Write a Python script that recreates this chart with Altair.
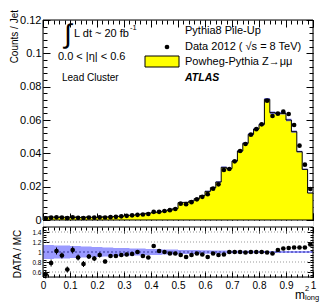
import altair as alt
import pandas as pd
import numpy as np

# ---------------- data ----------------
bin_edges = np.round(np.linspace(0, 1, 51), 2)

mc_values = [0.0018, 0.0018, 0.0016, 0.0016, 0.0017, 0.0015, 0.0015, 0.0016, 0.0016, 0.0016,
             0.0017, 0.0018, 0.0019, 0.0021, 0.0023, 0.0026, 0.0029, 0.0031, 0.0036, 0.0041,
             0.0044, 0.0048, 0.0054, 0.0061, 0.0068, 0.0104, 0.0106, 0.0114, 0.0128, 0.0146,
             0.0172, 0.0194, 0.0228, 0.0316, 0.0308, 0.0354, 0.0414, 0.0460, 0.0514, 0.0546,
             0.0574, 0.0724, 0.0644, 0.0640, 0.0640, 0.0600, 0.0530, 0.0410, 0.0304, 0.0162]

data_values = [0.0010, 0.0014, 0.0016, 0.0015, 0.0011, 0.0016, 0.0013, 0.0012, 0.0015, 0.0014,
               0.0016, 0.0015, 0.0017, 0.0019, 0.0022, 0.0025, 0.0028, 0.0031, 0.0033, 0.0036,
               0.0049, 0.0049, 0.0054, 0.0059, 0.0066, 0.0098, 0.0095, 0.0107, 0.0124, 0.0139,
               0.0155, 0.0188, 0.0214, 0.0300, 0.0306, 0.0352, 0.0414, 0.0456, 0.0512, 0.0545,
               0.0574, 0.0716, 0.0624, 0.0638, 0.0650, 0.0636, 0.0570, 0.0446, 0.0332, 0.0186]

ratio_values = [0.55, 0.78, 1.02, 0.93, 0.65, 1.04, 0.89, 0.76, 0.91, 0.87,
                0.94, 0.81, 0.92, 0.92, 0.94, 0.95, 0.96, 1.00, 0.92, 0.89,
                1.12, 1.02, 1.00, 0.97, 0.97, 0.94, 0.90, 0.94, 0.97, 0.95,
                0.90, 0.97, 0.94, 0.95, 1.00, 1.00, 1.00, 0.99, 1.00, 1.00,
                1.00, 0.99, 0.97, 1.04, 1.07, 1.08, 1.09, 1.09, 1.09, 1.15]

ratio_errors = [0.08, 0.07, 0.07, 0.06, 0.06, 0.07, 0.06, 0.06, 0.05, 0.05,
                0.05, 0.04, 0.04, 0.04, 0.04, 0.035, 0.035, 0.03, 0.03, 0.03,
                0.03, 0.025, 0.025, 0.02, 0.02, 0.02, 0.02, 0.02, 0.02, 0.015,
                0.015, 0.015, 0.015, 0.015, 0.015, 0.012, 0.012, 0.012, 0.012, 0.012,
                0.01, 0.01, 0.01, 0.01, 0.01, 0.01, 0.01, 0.012, 0.012, 0.015]

mc_rel_unc = [0.14, 0.14, 0.13, 0.13, 0.13, 0.12, 0.12, 0.11, 0.11, 0.10,
              0.10, 0.09, 0.09, 0.08, 0.08, 0.08, 0.07, 0.07, 0.07, 0.06,
              0.06, 0.06, 0.05, 0.05, 0.05, 0.04, 0.04, 0.04, 0.04, 0.035,
              0.035, 0.03, 0.03, 0.03, 0.025, 0.025, 0.025, 0.025, 0.025, 0.02,
              0.02, 0.02, 0.02, 0.02, 0.02, 0.02, 0.02, 0.02, 0.02, 0.02]

x_major = [round(0.1 * i, 1) for i in range(11)]
x_minor = [round(0.02 * i, 2) for i in range(51)]
top_major = [0.0, 0.02, 0.04, 0.06, 0.08, 0.10, 0.12]
top_minor = [round(0.004 * i, 3) for i in range(31)]
ratio_major = [0.6, 0.8, 1.0, 1.2, 1.4]
ratio_minor = [round(0.5 + 0.05 * i, 2) for i in range(21)]
ratio_grid = [0.6, 0.8, 1.2, 1.4]

# ---------------- tables ----------------
lo = bin_edges[:-1]
hi = bin_edges[1:]
df = pd.DataFrame({
    "lo": lo, "hi": hi, "c": (lo + hi) / 2,
    "mc": mc_values, "data": data_values,
    "r": ratio_values, "rerr": ratio_errors, "u": mc_rel_unc,
})
df["r_lo"] = df["r"] - df["rerr"]
df["r_hi"] = df["r"] + df["rerr"]

# step tables: one row per bin edge, last bin repeated to close the step
mc_step = mc_values + [mc_values[-1]]
u_step = mc_rel_unc + [mc_rel_unc[-1]]
step_df = pd.DataFrame({"x": list(bin_edges), "y": mc_step, "u": u_step})
step_df["zero"] = 0.0
step_df["m_lo"] = step_df["y"] * (1 - 0.6 * step_df["u"])
step_df["m_hi"] = step_df["y"] * (1 + 0.6 * step_df["u"])
step_df["b_lo"] = 1 - step_df["u"]
step_df["b_hi"] = 1 + step_df["u"]

grid_df = pd.DataFrame({"g": ratio_grid})
one = pd.DataFrame({"a": [0]})

FONT = "Liberation Sans"
W, H = 270, 257
TOP_H = 200
RATIO_TOP = 207

xs = alt.Scale(domain=[0, 1], nice=False, zero=False)
ys_top = alt.Scale(domain=[0, 0.12], range=[TOP_H, 0], nice=False, zero=False)
ys_rat = alt.Scale(domain=[0.5, 1.5], range=[H, RATIO_TOP], nice=False, zero=False)


def ax(orient, values, tick, shift=0, labels=False, size=11, pad=2):
    kw = dict(orient=orient, values=values, tickSize=tick, offset=-(tick + shift),
              domain=False, grid=False, labels=labels, title=None,
              tickColor="black", tickWidth=1, ticks=True)
    if labels:
        kw.update(labelExpr="format(datum.value, '~g')", labelFont=FONT,
                  labelFontSize=size, labelPadding=pad, labelColor="black",
                  labelOverlap=False, labelFlush=False)
    return alt.Axis(**kw)


# ---------------- top panel ----------------
hist = alt.Chart(step_df).mark_area(interpolate="step-after", color="#ffff00",
                                    opacity=1).encode(
    x=alt.X("x:Q", scale=xs, axis=ax("bottom", x_major, 7, shift=H - TOP_H)),
    y=alt.Y("y:Q", scale=ys_top, axis=ax("left", top_major, 7, labels=True,
                                         size=11, pad=2)),
    y2="zero:Q",
)
band = alt.Chart(step_df).mark_area(interpolate="step-after", color="#7070ff",
                                    opacity=0.9).encode(
    x=alt.X("x:Q", scale=xs, axis=ax("bottom", x_minor, 4, shift=H - TOP_H)),
    y=alt.Y("m_lo:Q", scale=ys_top, axis=ax("left", top_minor, 4)),
    y2="m_hi:Q",
)
step = alt.Chart(step_df).mark_line(interpolate="step-after", color="black",
                                    strokeWidth=1).encode(
    x=alt.X("x:Q", scale=xs, axis=ax("top", x_major, 7)),
    y=alt.Y("y:Q", scale=ys_top, axis=ax("right", top_major, 7)),
)
pts = alt.Chart(df).mark_circle(color="black", size=22, opacity=1).encode(
    x=alt.X("c:Q", scale=xs, axis=ax("top", x_minor, 4)),
    y=alt.Y("data:Q", scale=ys_top, axis=ax("right", top_minor, 4)),
)
frame_top = alt.Chart(one).mark_rect(filled=False, stroke="black", strokeWidth=1).encode(
    x=alt.X(datum=0, scale=xs, axis=None), x2=alt.datum(1),
    y=alt.Y(datum=0, scale=ys_top, axis=None), y2=alt.datum(0.12),
)


def txt(s, vx, vy, size=10, align="left", baseline="middle", angle=0,
        weight="normal", style="normal"):
    return alt.Chart(one).mark_text(
        text=s, align=align, baseline=baseline, font=FONT, fontSize=size,
        angle=angle, fontWeight=weight, fontStyle=style, color="black",
    ).encode(x=alt.value(vx), y=alt.value(vy))


legend_box = alt.Chart(one).mark_rect(color="#ffff00", stroke="black",
                                      strokeWidth=1).encode(
    x=alt.value(102), x2=alt.value(136), y=alt.value(36), y2=alt.value(47))
legend_dot = alt.Chart(one).mark_circle(color="black", size=22, opacity=1).encode(
    x=alt.value(124), y=alt.value(27))

annotations = [
    txt("∫", 25, 15, size=27, align="center"),
    txt("L dt ~ 20 fb", 31, 14, size=11),
    txt("-1", 87, 8, size=7.5),
    txt("0.0 < |η| < 0.6", 15, 37, size=11),
    txt("Lead Cluster", 19, 58, size=10),
    txt("Pythia8 Pile-Up", 142, 11, size=11),
    txt("Data 2012 ( √s = 8 TeV)", 142, 27, size=11),
    txt("Powheg-Pythia Z→μμ", 142, 42, size=11),
    txt("ATLAS", 142, 58, size=10.5, weight="bold", style="italic"),
    txt("Counts / Jet", -28, -10, size=10, align="right", angle=270),
]

top = alt.layer(hist, band, step, pts, frame_top, legend_box, legend_dot,
                *annotations).resolve_axis(x="independent", y="independent")

# ---------------- ratio panel ----------------
rband = alt.Chart(step_df).mark_area(interpolate="step-after", color="#9a9aff",
                                     opacity=1).encode(
    x=alt.X("x:Q", scale=xs, axis=ax("bottom", x_major, 6, labels=True,
                                     size=10, pad=3)),
    y=alt.Y("b_lo:Q", scale=ys_rat, axis=ax("left", ratio_major, 6, labels=True,
                                             size=6.5, pad=2)),
    y2="b_hi:Q",
)
rgrid = alt.Chart(grid_df).mark_rule(color="#999999", strokeDash=[1, 2],
                                     strokeWidth=1).encode(
    x=alt.X(datum=0, scale=xs, axis=ax("bottom", x_minor, 3)),
    x2=alt.datum(1),
    y=alt.Y("g:Q", scale=ys_rat, axis=ax("left", ratio_minor, 3)),
)
rone = alt.Chart(one).mark_rule(color="#333399", strokeDash=[2, 2],
                                strokeWidth=1).encode(
    x=alt.X(datum=0, scale=xs, axis=ax("top", x_major, 6, shift=RATIO_TOP)),
    x2=alt.datum(1),
    y=alt.Y(datum=1.0, scale=ys_rat, axis=ax("right", ratio_major, 6)),
)
rerr = alt.Chart(df).mark_rule(color="black", strokeWidth=1).encode(
    x=alt.X("c:Q", scale=xs, axis=ax("top", x_minor, 3, shift=RATIO_TOP)),
    y=alt.Y("r_lo:Q", scale=ys_rat, axis=ax("right", ratio_minor, 3)),
    y2="r_hi:Q",
)
rpts = alt.Chart(df).mark_circle(color="black", size=22, opacity=1).encode(
    x=alt.X("c:Q", scale=xs, axis=None),
    y=alt.Y("r:Q", scale=ys_rat, axis=None),
)
frame_rat = alt.Chart(one).mark_rect(filled=False, stroke="black", strokeWidth=1).encode(
    x=alt.X(datum=0, scale=xs, axis=None), x2=alt.datum(1),
    y=alt.Y(datum=0.5, scale=ys_rat, axis=None), y2=alt.datum(1.5),
)
rtexts = [
    txt("DATA / MC", -25, 234, size=10, align="center", angle=270),
    txt("m", 252, 275, size=12),
    txt("2", 262, 269, size=7.5),
    txt("long", 262, 278, size=7.5),
]
ratio = alt.layer(rband, rgrid, rone, rerr, rpts, frame_rat,
                  *rtexts).resolve_axis(x="independent", y="independent")

chart = alt.layer(top, ratio).resolve_scale(y="independent").resolve_axis(
    x="independent", y="independent"
).properties(
    width=W, height=H, autosize="none",
    padding={"left": 35, "top": 12, "right": 8, "bottom": 25},
).configure_view(stroke=None).configure(background="white")

chart.save("out.html", embed_options={"renderer": "svg", "actions": False})
